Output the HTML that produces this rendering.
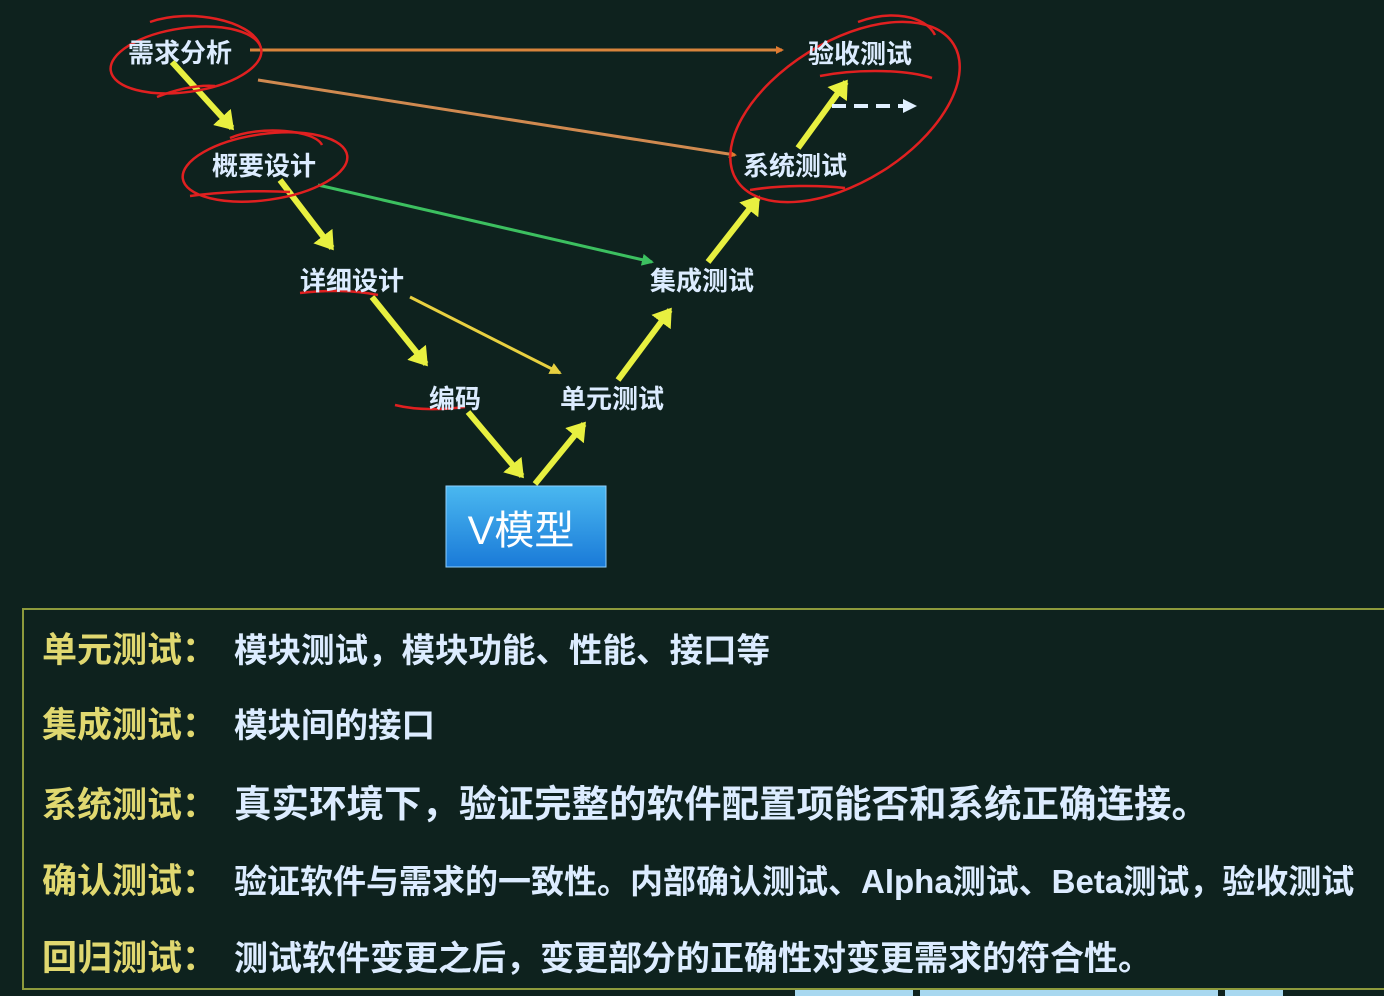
<!DOCTYPE html>
<html><head><meta charset="utf-8"><style>
html,body{margin:0;padding:0;background:#0e221e;}
body{width:1384px;height:996px;overflow:hidden;position:relative;font-family:"Liberation Sans","Noto Sans CJK SC",sans-serif;}
svg{position:absolute;left:0;top:0;}
.box{position:absolute;left:22px;top:608px;width:1380px;height:382px;border:2px solid #8d9a3c;box-sizing:border-box;}
.row{position:absolute;left:42px;white-space:nowrap;font-weight:bold;}
.row .l{color:#e0d870;font-size:35px;display:inline-block;width:192px;}
.row .b{color:#dcecff;}
</style></head><body>
<svg width="1384" height="996" viewBox="0 0 1384 996">
<defs>
<marker id="ay" markerWidth="4" markerHeight="4" refX="2.5" refY="2" orient="auto"><path d="M0,0 L3,2 L0,4 z" fill="#e8f040"/></marker>
<marker id="ao" markerWidth="8" markerHeight="8" refX="6" refY="4" orient="auto" markerUnits="userSpaceOnUse"><path d="M0,0 L8,4 L0,8 z" fill="#e07a30"/></marker>
<marker id="ag" markerWidth="12" markerHeight="12" refX="10" refY="6" orient="auto" markerUnits="userSpaceOnUse"><path d="M0,0 L12,6 L0,12 z" fill="#3cc060"/></marker>
<marker id="ayo" markerWidth="12" markerHeight="12" refX="10" refY="6" orient="auto" markerUnits="userSpaceOnUse"><path d="M0,0 L12,6 L0,12 z" fill="#e8d040"/></marker>
<marker id="aw" markerWidth="14" markerHeight="14" refX="12" refY="7" orient="auto" markerUnits="userSpaceOnUse"><path d="M0,0 L14,7 L0,14 z" fill="#e0f0ff"/></marker>
<linearGradient id="bg" x1="0" y1="0" x2="0" y2="1"><stop offset="0" stop-color="#4ab8f0"/><stop offset="1" stop-color="#1a7ad8"/></linearGradient>
</defs>
<g stroke="#e8f040" stroke-width="6" marker-end="url(#ay)">
<line x1="172" y1="62" x2="232" y2="128"/>
<line x1="280" y1="180" x2="332" y2="248"/>
<line x1="372" y1="297" x2="426" y2="364"/>
<line x1="468" y1="412" x2="522" y2="476"/>
<line x1="535" y1="484" x2="584" y2="424"/>
<line x1="618" y1="380" x2="670" y2="310"/>
<line x1="708" y1="262" x2="758" y2="198"/>
<line x1="798" y1="148" x2="846" y2="82"/>
</g>
<line x1="250" y1="50" x2="782" y2="50" stroke="#d8843c" stroke-width="3" marker-end="url(#ao)"/>
<line x1="258" y1="80" x2="735" y2="155" stroke="#d08a50" stroke-width="3" marker-end="url(#ao)"/>
<line x1="318" y1="185" x2="652" y2="262" stroke="#3cc060" stroke-width="3" marker-end="url(#ag)"/>
<line x1="410" y1="297" x2="560" y2="373" stroke="#e8d040" stroke-width="3" marker-end="url(#ayo)"/>
<line x1="832" y1="106" x2="915" y2="106" stroke="#e0f0ff" stroke-width="4" stroke-dasharray="14,8" marker-end="url(#aw)"/>
<g fill="none" stroke="#e02020" stroke-width="2.5">
<ellipse cx="186" cy="60" rx="76" ry="32" transform="rotate(-8 186 60)"/>
<path d="M150,22 C190,8 250,20 260,45"/>
<ellipse cx="265" cy="167" rx="83" ry="33" transform="rotate(-8 265 167)"/>
<path d="M230,138 C260,125 315,130 322,145"/>
<ellipse cx="845" cy="112" rx="128" ry="70" transform="rotate(-32 845 112)"/>
<path d="M858,22 C890,10 925,15 935,35"/>
<path d="M820,76 C850,70 900,68 932,78"/>
<path d="M750,190 C780,185 820,185 845,188"/>
<path d="M300,293 C325,290 355,290 378,295"/>
<path d="M395,405 C415,410 440,410 465,407"/>
<path d="M157,97 C180,88 200,85 215,86"/>
<path d="M190,196 C220,192 260,190 290,192"/>
</g>
<g font-size="26" font-weight="bold" fill="#dcecff" text-anchor="middle" font-family="Liberation Sans, Noto Sans CJK SC, sans-serif">
<text x="180" y="62">需求分析</text>
<text x="264" y="175">概要设计</text>
<text x="352" y="290">详细设计</text>
<text x="455" y="408">编码</text>
<text x="612" y="408">单元测试</text>
<text x="702" y="290">集成测试</text>
<text x="795" y="175">系统测试</text>
<text x="860" y="63">验收测试</text>
</g>
<rect x="446" y="486" width="160" height="81" fill="url(#bg)" stroke="#8fd0ff" stroke-width="1"/>
<text x="521" y="544" font-size="40" fill="#ffffff" text-anchor="middle" font-family="Liberation Sans, Noto Sans CJK SC, sans-serif">V模型</text>
<rect x="795" y="988" width="118" height="8" fill="#a8d8f0"/>
<rect x="920" y="988" width="298" height="8" fill="#a8d8f0"/>
<rect x="1225" y="988" width="58" height="8" fill="#a8d8f0"/>
</svg>
<div class="box"></div>
<div class="row" style="top:622px"><span class="l">单元测试：</span><span class="b" style="font-size:33.5px">模块测试，模块功能、性能、接口等</span></div>
<div class="row" style="top:697px"><span class="l">集成测试：</span><span class="b" style="font-size:33.5px">模块间的接口</span></div>
<div class="row" style="top:773px"><span class="l">系统测试：</span><span class="b" style="font-size:37.5px">真实环境下，验证完整的软件配置项能否和系统正确连接。</span></div>
<div class="row" style="top:853px"><span class="l">确认测试：</span><span class="b" style="font-size:33px">验证软件与需求的一致性。内部确认测试、Alpha测试、Beta测试，验收测试</span></div>
<div class="row" style="top:930px"><span class="l">回归测试：</span><span class="b" style="font-size:34px">测试软件变更之后，变更部分的正确性对变更需求的符合性。</span></div>
</body></html>
